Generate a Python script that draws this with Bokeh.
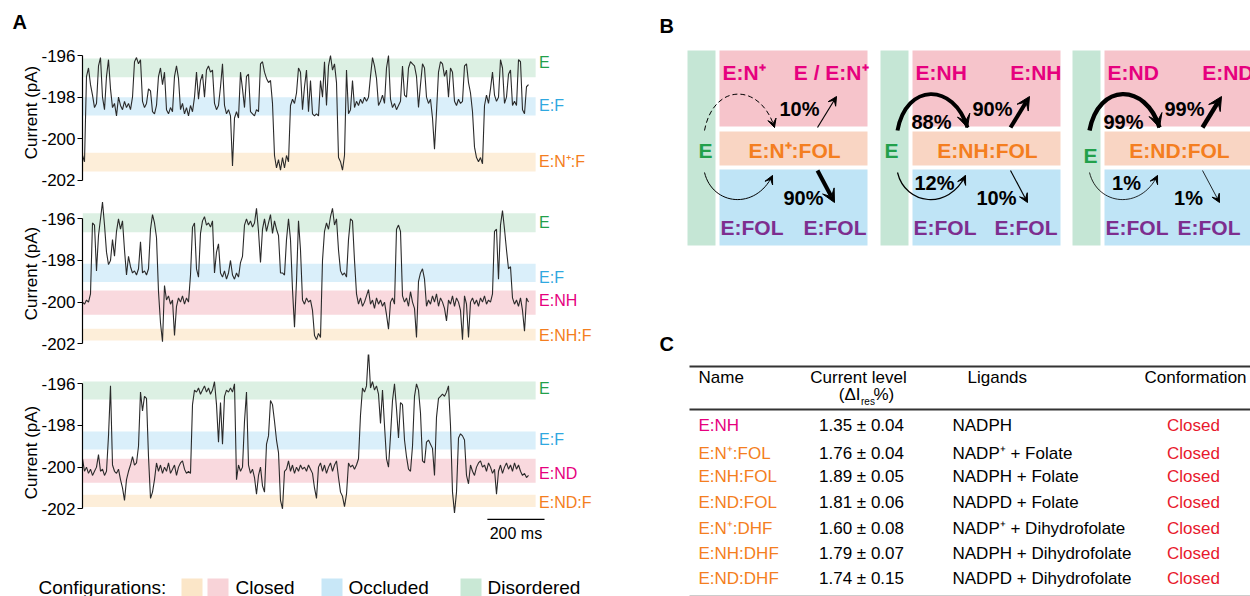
from bokeh.plotting import figure
from bokeh.models import Range1d, FixedTicker, Arrow, VeeHead, Title
from bokeh.layouts import row, column
from bokeh.core.properties import value
from bokeh.embed import file_html
from bokeh.resources import INLINE
import math

FONT = "Liberation Sans"

# ---------------- DATA ----------------
DT_MS = 7

current_nadp_fol = [
    -200.8, -201.1, -197.0, -196.6, -197.4, -197.9, -198.5, -198.3, -196.5, -196.1,
    -198.0, -198.6, -197.0, -196.2, -197.6, -198.5, -198.3, -198.9, -198.0, -198.4,
    -198.6, -198.2, -198.5, -198.3, -198.6, -198.0, -196.3, -196.1, -196.4, -196.2,
    -198.2, -198.5, -198.3, -197.6, -197.7, -198.7, -198.8, -198.4, -197.0, -196.6,
    -197.4, -196.8, -198.6, -198.8, -198.5, -198.7, -197.0, -196.5, -197.1, -198.6,
    -198.3, -198.8, -198.5, -198.9, -198.4, -198.7, -198.0, -196.8, -198.1, -197.2,
    -196.9, -198.0, -196.7, -196.5, -196.8, -196.7, -198.3, -198.6, -198.4, -197.5,
    -196.4, -198.4, -198.8, -198.6, -198.9, -201.3, -199.0, -198.7, -199.0, -196.8,
    -197.6, -198.5, -197.0, -196.9, -198.7, -198.8, -198.9, -198.6, -198.7, -196.4,
    -196.3, -196.8, -197.1, -197.3, -197.2, -198.3, -200.8, -201.4, -201.0, -201.5,
    -200.9, -201.4, -200.8, -201.1, -198.4, -198.1, -198.3, -197.8, -196.6, -196.8,
    -198.6, -197.5, -196.7, -198.7, -197.2, -198.8, -198.9, -198.8, -198.9, -197.2,
    -198.0, -196.3, -198.4, -196.5, -196.0, -196.7, -196.4, -197.3, -200.9, -201.1,
    -201.5, -200.8, -196.7, -198.8, -198.6, -197.2, -198.5, -198.2, -198.4, -198.1,
    -198.3, -198.0, -198.2, -198.0, -197.0, -196.1, -196.5, -197.1, -198.4, -198.2,
    -197.9, -198.3, -196.6, -196.0, -198.1, -198.5, -198.3, -198.6, -198.4, -198.2,
    -196.5, -197.9, -198.0, -196.6, -196.3, -196.4, -196.5, -197.0, -198.5, -197.4,
    -196.4, -196.6, -198.0, -198.3, -198.1, -199.0, -200.5, -198.7, -196.8, -196.3,
    -196.4, -197.0, -196.7, -198.0, -196.6, -196.8, -198.2, -198.4, -198.1, -198.3,
    -198.2, -196.5, -196.4, -197.3, -197.8, -198.7, -200.4, -200.9, -201.1, -200.9,
    -201.2, -198.4, -197.9, -198.3, -197.6, -196.8, -197.9, -198.2, -198.0, -196.2,
    -196.6, -198.3, -198.0, -196.9, -196.7, -198.4, -198.2, -198.4, -196.2, -196.3,
    -198.6, -198.8, -197.5, -197.4,
]

current_nadph_fol = [
    -200.0, -200.1, -199.9, -200.0, -199.6, -196.2, -196.3, -198.5, -196.8, -196.0,
    -195.2, -196.3, -197.6, -198.2, -198.0, -197.0, -197.8, -196.6, -196.0, -196.5,
    -196.1, -197.5, -198.7, -197.8, -198.3, -198.6, -198.5, -198.7, -198.4, -197.1,
    -198.6, -198.5, -198.7, -198.4, -196.5, -195.8, -196.2, -196.9, -199.5, -201.0,
    -201.9, -199.2, -199.9, -199.7, -200.1, -199.9, -201.6, -200.2, -199.8, -200.0,
    -199.7, -200.1, -199.8, -200.0, -198.7, -196.4, -196.2, -198.4, -198.8, -196.7,
    -196.1, -195.9, -196.3, -196.2, -196.4, -196.1, -198.6, -197.6, -197.2, -198.6,
    -198.8, -198.5, -198.9, -198.6, -198.0, -198.7, -198.9, -198.6, -198.8, -198.1,
    -197.8, -196.3, -196.0, -196.3, -196.1, -196.4, -196.2, -195.5, -196.6, -198.1,
    -196.5, -196.0, -196.6, -196.2, -195.8, -196.7, -196.1, -196.5, -196.8, -198.6,
    -198.6, -198.7, -197.0, -196.0, -197.0, -199.4, -201.2, -199.0, -196.1, -197.5,
    -199.9, -200.1, -199.8, -200.0, -199.9, -200.4, -201.6, -201.8, -201.5, -201.7,
    -198.0, -196.6, -196.2, -196.5, -195.9, -195.5, -196.3, -196.0, -197.5, -198.5,
    -198.7, -198.6, -198.8, -197.0, -196.0, -196.1, -198.0, -199.6, -200.1, -199.8,
    -200.2, -200.0, -199.7, -199.4, -200.1, -199.9, -200.3, -199.8, -200.1, -199.9,
    -200.2, -200.0, -200.6, -201.3, -200.0, -199.8, -200.1, -196.5, -196.3, -196.6,
    -199.7, -200.0, -199.8, -200.2, -199.5, -200.0, -200.3, -201.7, -199.0, -198.6,
    -198.4, -198.9, -200.2, -199.9, -200.1, -199.7, -200.0, -199.6, -200.2, -199.8,
    -200.0, -200.3, -200.9, -199.9, -200.1, -199.7, -200.2, -199.8, -200.0, -200.4,
    -201.8, -199.7, -200.1, -201.7, -200.0, -199.8, -200.1, -199.9, -200.2, -199.8,
    -200.0, -199.7, -200.1, -199.9, -200.0, -199.6, -196.6, -196.5, -198.9, -196.3,
    -195.6, -196.5, -197.5, -198.4, -198.3, -199.8, -200.1, -199.9, -200.2, -199.8,
    -200.4, -201.4, -199.8, -200.0,
]

current_nadpd_fol = [
    -199.6, -200.2, -200.0, -200.3, -200.1, -200.4, -200.2, -200.0, -199.4, -200.2,
    -200.1, -200.4, -200.2, -198.5, -196.1, -199.9, -200.2, -200.3, -200.1, -200.6,
    -201.0, -201.6, -200.6, -200.2, -199.9, -199.5, -199.9, -199.8, -199.0, -196.4,
    -197.3, -196.6, -196.7, -199.5, -201.5, -201.2, -200.6, -199.8, -200.2, -199.9,
    -200.3, -200.0, -200.2, -199.8, -200.3, -200.1, -199.9, -200.4, -200.0, -199.8,
    -199.7, -200.1, -200.3, -200.2, -200.3, -197.0, -196.3, -196.4, -196.2, -196.5,
    -196.3, -196.1, -196.4, -196.2, -196.5, -196.3, -195.9, -197.0, -198.8, -196.9,
    -198.9, -196.6, -196.3, -196.4, -196.2, -196.4, -196.0, -200.6, -199.9, -200.2,
    -200.0, -197.8, -196.4, -199.9, -200.3, -200.1, -200.5, -201.3, -200.4, -200.0,
    -200.9, -201.2, -198.9, -198.5, -196.8, -197.0, -197.8, -198.7, -199.3, -201.6,
    -202.0, -200.2, -200.1, -199.7, -200.2, -199.9, -200.3, -200.0, -200.2, -199.9,
    -200.1, -200.0, -200.2, -199.9, -200.1, -200.3, -201.0, -201.5, -200.0, -199.8,
    -200.2, -199.9, -200.3, -200.0, -199.8, -200.2, -199.9, -199.7, -200.5, -201.2,
    -201.4, -201.9, -201.3, -199.8, -200.0, -199.9, -200.1, -199.9, -199.6, -197.5,
    -196.2, -196.4, -196.1, -194.4, -196.2, -195.9, -196.3, -196.1, -196.5, -197.9,
    -196.3, -198.0, -199.6, -200.0, -198.5, -196.8, -196.0, -197.2, -198.6, -196.9,
    -197.0, -198.7, -199.5, -200.1, -200.2, -199.0, -196.6, -196.0, -196.3, -197.4,
    -199.7, -199.8, -198.8, -198.7, -198.9, -199.1, -200.4, -197.6, -196.7, -196.6,
    -196.5, -196.6, -196.4, -196.1, -198.0, -201.2, -202.2, -201.2, -198.6, -198.4,
    -198.5, -198.7, -200.4, -200.8, -199.9, -200.2, -200.4, -200.0, -199.8, -199.7,
    -200.0, -199.9, -200.2, -199.8, -200.0, -200.3, -200.1, -201.3, -200.2, -199.9,
    -200.3, -200.0, -199.8, -200.1, -199.9, -200.2, -199.8, -200.1, -199.9, -200.2,
    -200.4, -200.3, -200.5, -200.4,
]

# state bands (pA): name, upper, lower
bands_1_names = ["E", "E:F", "E:N\u207a:F"]
bands_1_top = [-196.15, -198.0, -200.67]
bands_1_bottom = [-197.05, -198.88, -201.57]
bands_1_label_y = [-196.33, -198.38, -201.1]

bands_2_names = ["E", "E:F", "E:NH", "E:NH:F"]
bands_2_top = [-195.73, -198.16, -199.44, -201.28]
bands_2_bottom = [-196.64, -199.04, -200.61, -201.84]
bands_2_label_y = [-196.16, -198.8, -199.93, -201.6]

bands_3_names = ["E", "E:F", "E:ND", "E:ND:F"]
bands_3_top = [-195.89, -198.29, -199.6, -201.33]
bands_3_bottom = [-196.75, -199.15, -200.75, -201.92]
bands_3_label_y = [-196.24, -198.69, -200.3, -201.69]

y_ticks = [-202, -200, -198, -196]

config_title = "Configurations:"
config_labels = ["Closed", "Occluded", "Disordered"]

# panel B
b_top_left = ["E:N\u207a", "E:NH", "E:ND"]
b_top_right = ["E / E:N\u207a", "E:NH", "E:ND"]
b_middle = ["E:N\u207a:FOL", "E:NH:FOL", "E:ND:FOL"]
b_bottom = ["E:FOL", "E:FOL", "E:FOL"]
b_arc_top_pct = [None, 88, 99]      # E -> ternary complex via cofactor
b_line_top_pct = [10, 90, 99]       # ternary -> cofactor complex
b_arc_bottom_pct = [None, 12, 1]    # E -> ternary via folate
b_line_bottom_pct = [90, 10, 1]     # ternary -> E:FOL

# panel C
c_names = ["E:NH", "E:N\u207a:FOL", "E:NH:FOL", "E:ND:FOL", "E:N\u207a:DHF", "E:NH:DHF", "E:ND:DHF"]
c_level = [1.35, 1.76, 1.89, 1.81, 1.60, 1.79, 1.74]
c_error = [0.04, 0.04, 0.05, 0.06, 0.08, 0.07, 0.15]
c_ligands = ["NADPH", "NADP\u207a + Folate", "NADPH + Folate", "NADPD + Folate",
             "NADP\u207a + Dihydrofolate", "NADPH + Dihydrofolate", "NADPD + Dihydrofolate"]
c_conformation = ["Closed", "Closed", "Closed", "Closed", "Closed", "Closed", "Closed"]

# ---------------- STYLE ----------------
COL_E = "#22a04b"
COL_F = "#2fa8e0"
COL_ORANGE = "#f47e20"
COL_MAG = "#e6007e"
COL_PURPLE = "#7d2e8f"
BAND_GREEN = "#dcf0e3"
BAND_BLUE = "#daeffa"
BAND_ORANGE = "#fdeed9"
BAND_PINK = "#f9d9de"

PX_PER_PA = 20.83
MS_PER_PX = 3.5
LEFT_W = 640
AXIS_PX = 82
BAND_END_MS = 1586
LABEL_MS = 1598


def trace_fig(height, px_m196, current, names, tops, bottoms, label_y, band_cols, label_cols, top_border=0):
    y_hi = -196 + (px_m196 - top_border) / PX_PER_PA
    y_lo = y_hi - (height - top_border) / PX_PER_PA
    p = figure(width=LEFT_W, height=height, output_backend="svg", toolbar_location=None,
               x_range=Range1d(0, (LEFT_W - AXIS_PX) * MS_PER_PX), y_range=Range1d(y_lo, y_hi),
               x_axis_type=None, min_border_left=AXIS_PX, min_border_right=0,
               min_border_top=top_border, min_border_bottom=0, outline_line_color=None, title=None)
    p.grid.visible = False
    p.quad(left=[0] * len(names), right=[BAND_END_MS] * len(names), top=tops, bottom=bottoms,
           fill_color=band_cols, line_color=None)
    t = [i * DT_MS for i in range(len(current))]
    p.line(t, current, line_color="#2a2a2a", line_width=1.1)
    p.text(x=[LABEL_MS] * len(names), y=label_y, text=names, text_color=label_cols,
           text_font=value(FONT), text_font_size="16px", text_baseline="middle", text_align="left")
    ax = p.yaxis[0]
    ax.ticker = FixedTicker(ticks=y_ticks)
    ax.major_label_overrides = {v: "%d" % v for v in y_ticks}
    ax.bounds = (-202, -196)
    ax.major_tick_in = 0
    ax.major_tick_out = 5
    ax.minor_tick_in = 0
    ax.minor_tick_out = 0
    ax.axis_line_width = 1.2
    ax.axis_line_color = "black"
    ax.major_tick_line_color = "black"
    ax.major_label_text_font = FONT
    ax.major_label_text_font_size = "17px"
    ax.major_label_text_color = "black"
    ax.major_label_standoff = 2
    ax.axis_label = "Current (pA)"
    ax.axis_label_text_font = FONT
    ax.axis_label_text_font_size = "17px"
    ax.axis_label_text_font_style = "normal"
    ax.axis_label_text_color = "black"
    ax.axis_label_standoff = -3
    return p


T1_TOP = 32
t1 = trace_fig(192, 55, current_nadp_fol, bands_1_names, bands_1_top, bands_1_bottom, bands_1_label_y,
               [BAND_GREEN, BAND_BLUE, BAND_ORANGE], [COL_E, COL_F, COL_ORANGE], top_border=T1_TOP)
t1.title = Title(text="A", align="left", offset=-70, standoff=0, text_font=FONT, text_font_size="20px",
                 text_font_style="bold", text_color="black")
t2 = trace_fig(162, 26.3, current_nadph_fol, bands_2_names, bands_2_top, bands_2_bottom, bands_2_label_y,
               [BAND_GREEN, BAND_BLUE, BAND_PINK, BAND_ORANGE], [COL_E, COL_F, COL_MAG, COL_ORANGE])
t3 = trace_fig(196, 29.3, current_nadpd_fol, bands_3_names, bands_3_top, bands_3_bottom, bands_3_label_y,
               [BAND_GREEN, BAND_BLUE, BAND_PINK, BAND_ORANGE], [COL_E, COL_F, COL_MAG, COL_ORANGE])
# 200 ms scale bar
SB_START = 1417
SB_LEN = 200
t3.line([SB_START, SB_START + SB_LEN], [-202.51, -202.51], line_color="black", line_width=1.3)
t3.text(x=[SB_START + SB_LEN / 2], y=[-203.2], text=["%d ms" % SB_LEN], text_font=value(FONT),
        text_font_size="16px", text_align="center", text_baseline="middle", text_color="black")

# legend strip
CAN_UNALIGN = "frame_align" in figure.properties()
LEG_X0 = 0 if CAN_UNALIGN else AXIS_PX
leg = figure(width=LEFT_W, height=46, output_backend="svg", toolbar_location=None,
             x_range=Range1d(LEG_X0, LEFT_W), y_range=Range1d(596, 550), x_axis_type=None, y_axis_type=None,
             min_border_left=LEG_X0, min_border_right=0, min_border_top=0, min_border_bottom=0,
             outline_line_color=None, title=None)
if CAN_UNALIGN:
    leg.frame_align = False
leg.quad(left=[181, 207, 321, 460], right=[202, 228, 342, 481], top=[578] * 4, bottom=[600] * 4,
         fill_color=["#fbe6c8", "#f8d3d8", "#c8e7f7", "#c9e8d5"], line_color=None)
leg.text(x=[38, 235, 348, 487], y=[587] * 4, text=[config_title] + config_labels,
         text_font=value(FONT), text_font_size="19px", text_baseline="middle", text_align="left",
         text_color="black")

# ---------------- RIGHT: panels B and C ----------------
r = figure(width=1250 - LEFT_W, height=596, output_backend="svg", toolbar_location=None,
           x_range=Range1d(LEFT_W, 1250), y_range=Range1d(596, 0), x_axis_type=None, y_axis_type=None,
           min_border=0, outline_line_color=None, title=None)
r.text(x=[659, 659], y=[25, 343], text=["B", "C"], text_font=value(FONT), text_font_size="20px",
       text_font_style="bold", text_baseline="middle", text_align="left", text_color="black")

BX = [687, 880, 1072]
E_X = [705, 891, 1090]
E_Y = [150, 150, 155]
FOL2_X = [803, 994, 1177]
for i, bx in enumerate(BX):
    r.quad(left=[bx], right=[bx + 28], top=[50], bottom=[245], fill_color="#c5e6d5", line_color=None)
    r.quad(left=[bx + 32] * 3, right=[bx + 180] * 3 if i < 2 else [1262] * 3,
           top=[50, 131, 169], bottom=[126, 165, 245],
           fill_color=["#f6c4cb", "#f9d5c3", "#bfe4f6"], line_color=None)
    bold = dict(text_font=value(FONT), text_font_size="21px", text_font_style="bold", text_baseline="middle")
    r.text(x=[bx + 35], y=[72], text=[b_top_left[i]], text_color=COL_MAG, text_align="left", **bold)
    r.text(x=[bx + 181], y=[72], text=[b_top_right[i]], text_color=COL_MAG, text_align="right", **bold)
    r.text(x=[bx + 107], y=[150], text=[b_middle[i]], text_color=COL_ORANGE, text_align="center", **bold)
    r.text(x=[E_X[i]], y=[E_Y[i]], text=["E"], text_color=COL_E, text_align="center", **bold)
    r.text(x=[bx + 33, FOL2_X[i]], y=[227, 227], text=[b_bottom[i], b_bottom[i]], text_color=COL_PURPLE,
           text_align="left", **bold)

    def lw(pct):
        return 1.0 if pct is None else 0.8 + 0.036 * pct

    arcs = [
        ((bx + 17, 130), (bx + 26, 82), (bx + 73, 82), (bx + 87, 127), b_arc_top_pct[i], (bx + 51, 121)),
        ((bx + 17, 172), (bx + 25, 205), (bx + 68, 210), (bx + 85, 175), b_arc_bottom_pct[i], (bx + 54, 182)),
    ]
    for k, (s, c0, c1, e, pct, lab) in enumerate(arcs):
        w = lw(pct)
        dash = "5 3" if (pct is None and k == 0) else "solid"
        r.bezier(x0=[s[0]], y0=[s[1]], cx0=[c0[0]], cy0=[c0[1]], cx1=[c1[0]], cy1=[c1[1]],
                 x1=[e[0]], y1=[e[1]], line_color="black", line_width=w, line_dash=dash)
        dx, dy = e[0] - c1[0], e[1] - c1[1]
        n = math.hypot(dx, dy)
        r.add_layout(Arrow(x_start=e[0] - 3 * dx / n, y_start=e[1] - 3 * dy / n, x_end=e[0], y_end=e[1],
                           line_alpha=0,
                           end=VeeHead(size=7 + 1.5 * w, fill_color="black", line_color="black", line_width=1)))
        if pct is not None:
            r.text(x=[lab[0]], y=[lab[1]], text=["%d%%" % pct], text_font=value(FONT), text_font_size="20px",
                   text_font_style="bold", text_align="center", text_baseline="middle", text_color="black")
    lines = [
        ((bx + 130, 127), (bx + 149, 96), b_line_top_pct[i], (bx + 112, 108)),
        ((bx + 130, 170), (bx + 147, 202), b_line_bottom_pct[i], (bx + 116, 197)),
    ]
    for s, e, pct, lab in lines:
        w = lw(pct)
        r.add_layout(Arrow(x_start=s[0], y_start=s[1], x_end=e[0], y_end=e[1], line_width=w,
                           line_color="black",
                           end=VeeHead(size=7 + 1.5 * w, fill_color="black", line_color="black", line_width=1)))
        r.text(x=[lab[0]], y=[lab[1]], text=["%d%%" % pct], text_font=value(FONT), text_font_size="20px",
               text_font_style="bold", text_align="center", text_baseline="middle", text_color="black")

# table C
r.line([689, 1250], [366, 366], line_color="#333333", line_width=2)
r.line([689, 1250], [409, 409], line_color="#333333", line_width=2)
r.line([689, 1250], [595, 595], line_color="#cccccc", line_width=1)
reg = dict(text_font=value(FONT), text_font_size="17px", text_baseline="middle", text_color="black")
r.text(x=[698, 967, 1144], y=[377] * 3, text=["Name", "Ligands", "Conformation"], text_align="left", **reg)
r.text(x=[858], y=[377], text=["Current level"], text_align="center", **reg)
r.text(x=[860], y=[394], text=["(\u0394I"], text_align="right", **reg)
r.text(x=[873], y=[394], text=["%)"], text_align="left", **reg)
r.text(x=[860.5], y=[401], text=["res"], text_font=value(FONT), text_font_size="10px",
       text_baseline="middle", text_align="left", text_color="black")
ROW_Y = [425, 453, 476, 502, 528, 553, 578]
name_cols = [COL_MAG] + [COL_ORANGE] * (len(c_names) - 1)
r.text(x=[698] * len(c_names), y=ROW_Y, text=c_names, text_color=name_cols, text_align="left",
       text_font=value(FONT), text_font_size="17px", text_baseline="middle")
r.text(x=[861] * len(c_names), y=ROW_Y, text=["%.2f \u00b1 %.2f" % (a, b) for a, b in zip(c_level, c_error)],
       text_align="center", **reg)
r.text(x=[952] * len(c_names), y=ROW_Y, text=c_ligands, text_align="left", **reg)
r.text(x=[1193] * len(c_names), y=ROW_Y, text=c_conformation, text_align="center",
       text_font=value(FONT), text_font_size="17px", text_baseline="middle", text_color="#e8192c")

layout = row(column(t1, t2, t3, leg), r)
open("out.html", "w").write(file_html(layout, INLINE))
